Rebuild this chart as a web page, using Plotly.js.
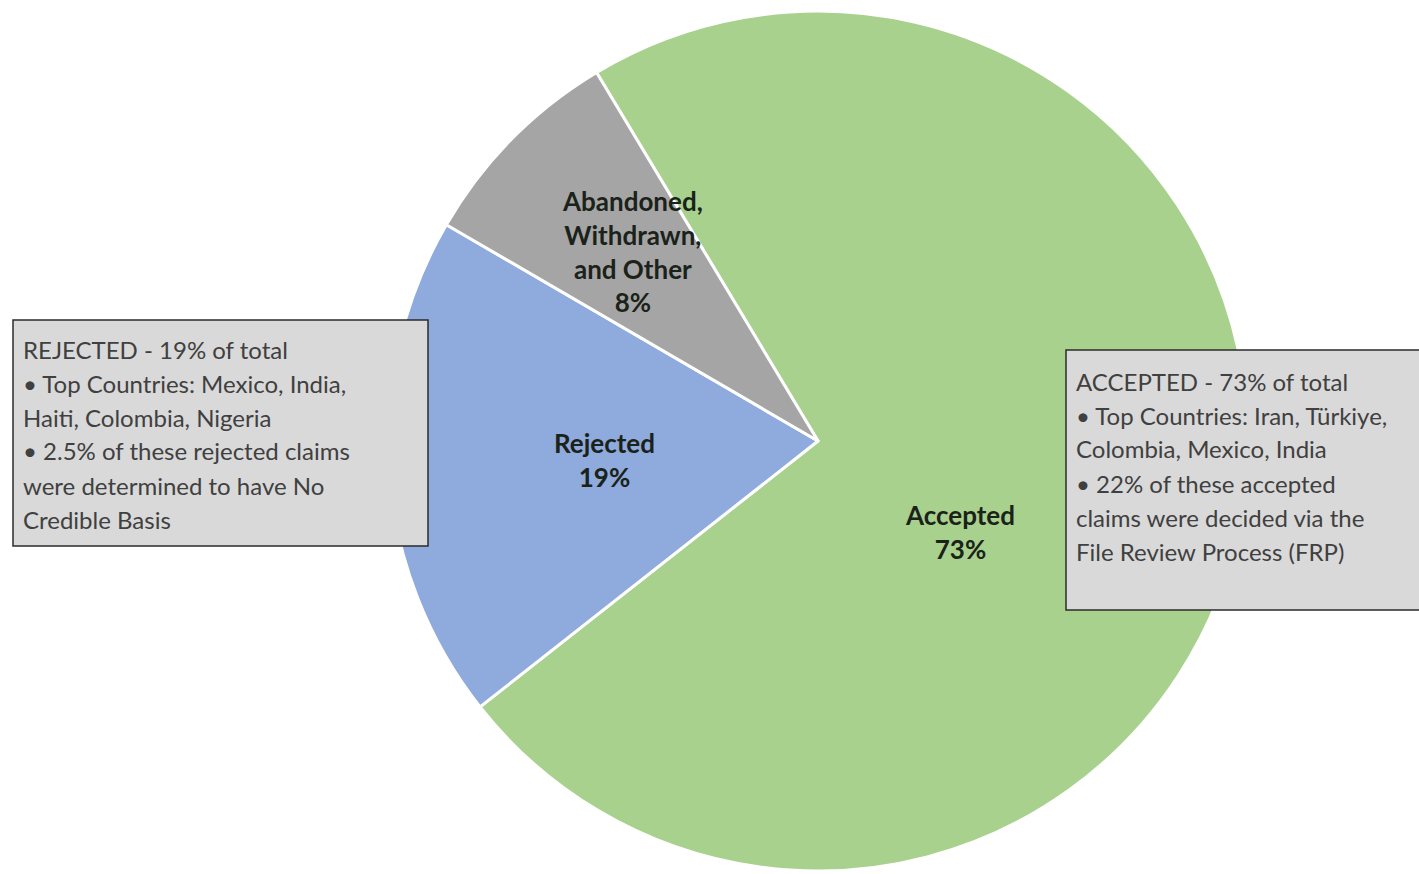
<!DOCTYPE html>
<html>
<head>
<meta charset="utf-8">
<script src="https://cdn.plot.ly/plotly-3.0.1.min.js"></script>
<style>html,body{margin:0;padding:0;background:#fff;}#chart{width:1419px;height:874px;}</style>
</head>
<body>
<div id="chart"></div>
<script>
const categories = ["Accepted", "Rejected", "Abandoned, Withdrawn, and Other"];
const sliceLabels = ["Accepted", "Rejected", "Abandoned,<br>Withdrawn,<br>and Other"];
const values = [73, 19, 8];
const colors = ["#a9d18e", "#8faadc", "#a5a5a5"];
const rejectedNote = [
  "REJECTED - 19% of total",
  "\u2022 Top Countries: Mexico, India,",
  "Haiti, Colombia, Nigeria",
  "\u2022 2.5% of these rejected claims",
  "were determined to have No",
  "Credible Basis"
];
const acceptedNote = [
  "ACCEPTED - 73% of total",
  "\u2022 Top Countries: Iran, T\u00fcrkiye,",
  "Colombia, Mexico, India",
  "\u2022 22% of these accepted",
  "claims were decided via the",
  "File Review Process (FRP)"
];

const W = 1419, H = 874;
const px = x => x / W;
const py = y => 1 - y / H;

const trace = {
  type: "pie",
  labels: categories,
  values: values,
  sort: false,
  direction: "clockwise",
  rotation: -31,
  marker: {colors: colors, line: {color: "#ffffff", width: 3}},
  textinfo: "none",
  hoverinfo: "none",
  showlegend: false,
  domain: {x: [px(818 - 430), px(818 + 430)], y: [py(441 + 430), py(441 - 430)]}
};

const labelPos = [[960, 532], [604, 460], [632, 252]];
const annotations = [];
sliceLabels.forEach((lab, i) => {
  annotations.push({
    xref: "paper", yref: "paper",
    x: px(labelPos[i][0]), y: py(labelPos[i][1]),
    xanchor: "center", yanchor: "middle",
    text: "<b>" + lab + "<br>" + values[i] + "%</b>",
    showarrow: false,
    align: "center",
    font: {family: "Lato, 'Noto Sans', sans-serif", size: 26, color: "#1a221a"}
  });
});

function addNote(lines, x0, y0) {
  lines.forEach((t, i) => {
    annotations.push({
      xref: "paper", yref: "paper",
      x: px(x0), y: py(y0 + i * 34),
      xanchor: "left", yanchor: "middle",
      text: t, showarrow: false, align: "left",
      font: {family: "Lato, 'Noto Sans', sans-serif", size: 24, color: "#404040"}
    });
  });
}
addNote(rejectedNote, 21, 349);
addNote(acceptedNote, 1074, 381);

const shapes = [
  {type: "rect", xref: "paper", yref: "paper", x0: px(13), x1: px(428), y0: py(546), y1: py(320),
   fillcolor: "#d9d9d9", line: {color: "#2b2b2b", width: 1.5}, layer: "above"},
  {type: "rect", xref: "paper", yref: "paper", x0: px(1066), x1: px(1430), y0: py(610), y1: py(350),
   fillcolor: "#d9d9d9", line: {color: "#2b2b2b", width: 1.5}, layer: "above"}
];

const layout = {
  width: W, height: H,
  margin: {l: 0, r: 0, t: 0, b: 0},
  paper_bgcolor: "#ffffff",
  showlegend: false,
  annotations: annotations,
  shapes: shapes
};

Plotly.newPlot("chart", [trace], layout, {displayModeBar: false, staticPlot: true});
</script>
</body>
</html>
